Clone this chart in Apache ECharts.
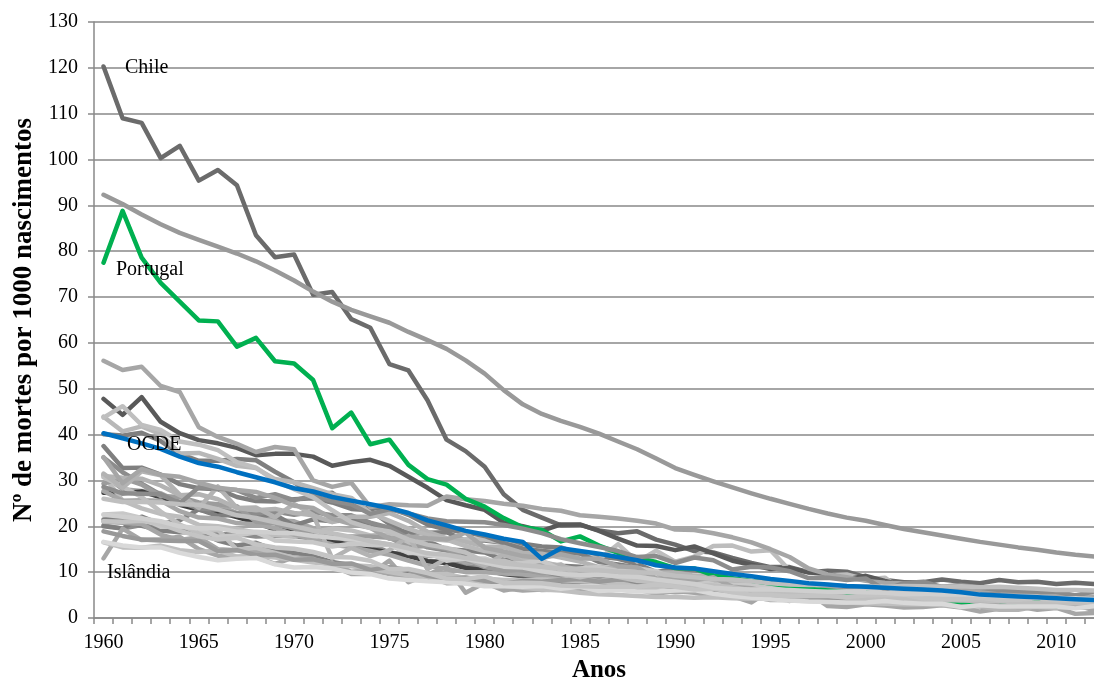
<!DOCTYPE html>
<html>
<head>
<meta charset="utf-8">
<title>Mortalidade infantil – OCDE</title>
<script src="https://cdn.jsdelivr.net/npm/echarts@6/dist/echarts.min.js"></script>
<style>
  html, body { margin: 0; padding: 0; background: #fff; overflow: hidden; }
  #chart { width: 1094px; height: 681px; }
</style>
</head>
<body>
<div id="chart"></div>
<script>
// Anos 1960–2012
const years = [];
for (let y = 1960; y <= 2012; y++) years.push(String(y));

// Mortalidade infantil (mortes por 1000 nascimentos)
const australia = [
  20.2,19.5,20.3,19.5,19.1,18.5,18.2,18.3,17.8,17.9,
  17.9,17.3,16.7,16.5,16.1,14.3,13.8,12.5,12.2,11.4,
  10.7,10.0,10.3,9.6,9.2,9.9,8.8,8.7,8.7,8.0,
  8.2,7.1,7.0,6.1,5.9,5.7,5.8,5.3,5.0,5.7,
  5.2,5.3,5.0,4.8,4.7,5.0,4.7,4.2,4.1,4.3,
  4.1,3.8,3.3];
const austria = [
  37.5,32.7,32.8,31.3,29.2,28.3,28.1,26.4,25.5,25.4,
  25.9,26.1,25.2,23.8,23.5,20.5,18.2,16.8,15.0,14.7,
  14.3,12.7,12.8,11.9,11.4,11.2,10.3,9.8,8.1,8.3,
  7.8,7.5,7.5,6.5,6.3,5.4,5.1,4.7,4.9,4.4,
  4.8,4.8,4.1,4.5,4.5,4.2,3.6,3.7,3.7,3.8,
  3.9,3.6,3.2];
const belgica = [
  31.2,28.1,27.7,27.2,25.3,23.7,24.7,22.9,21.7,21.4,
  21.1,19.6,18.2,16.9,16.2,16.1,14.0,13.6,13.6,12.1,
  12.1,11.1,11.6,10.6,10.1,9.8,9.7,9.7,9.2,8.6,
  8.0,8.4,8.2,8.0,7.6,6.0,6.0,5.6,5.5,4.9,
  4.8,4.5,4.4,4.1,4.3,3.7,4.0,4.0,3.7,3.4,
  3.6,3.3,3.8];
const canada = [
  27.3,27.2,27.6,26.3,24.7,23.6,23.1,22.0,20.8,19.3,
  18.8,17.5,17.1,15.5,15.0,14.3,13.5,12.4,12.0,10.9,
  10.4,9.6,9.1,8.5,8.1,8.0,7.9,7.3,7.2,7.1,
  6.8,6.4,6.1,6.3,6.3,6.1,5.6,5.5,5.3,5.3,
  5.3,5.2,5.4,5.3,5.3,5.4,5.0,5.1,5.1,4.9,
  5.0,4.8,4.8];
const chile = [
  120.3,109.0,108.0,100.3,103.0,95.4,97.7,94.4,83.5,78.7,
  79.3,70.5,71.1,65.2,63.3,55.4,54.0,47.5,38.9,36.4,
  33.0,27.0,23.6,21.9,20.2,20.3,19.1,18.5,18.9,17.1,
  16.0,14.6,14.3,13.1,12.0,11.1,11.1,10.0,10.3,10.1,
  8.9,8.3,7.8,7.8,8.4,7.9,7.6,8.3,7.8,7.9,
  7.4,7.7,7.4];
const chequia = [
  20.0,19.5,22.1,20.5,21.3,23.7,22.3,22.5,22.2,22.5,
  20.2,21.5,21.1,21.4,20.6,19.4,18.7,18.6,18.7,16.9,
  16.9,16.4,16.2,15.6,15.4,14.0,13.4,12.9,11.8,10.0,
  10.8,10.4,9.9,8.5,7.9,7.7,6.0,5.9,5.2,4.6,
  4.1,4.0,4.1,3.9,3.7,3.4,3.3,3.1,2.8,2.9,
  2.7,2.7,2.6];
const dinamarca = [
  21.5,21.8,20.1,19.1,18.7,18.7,16.9,15.8,16.4,14.8,
  14.2,13.5,12.2,11.5,10.7,10.4,10.2,8.7,8.9,8.8,
  8.4,7.9,8.2,7.7,7.7,7.9,8.2,8.3,7.5,8.0,
  7.5,7.3,6.6,5.4,5.6,5.1,5.6,5.2,4.7,4.2,
  5.3,4.9,4.4,4.4,4.4,4.4,3.8,4.0,4.0,3.1,
  3.4,3.5,3.4];
const estonia = [
  31.1,25.6,23.9,22.7,22.1,20.3,20.0,19.4,18.6,18.1,
  17.7,18.8,19.5,19.1,18.0,18.2,16.4,17.3,16.9,17.2,
  17.1,16.5,15.2,14.6,14.0,14.1,12.8,16.1,12.3,14.7,
  12.3,13.4,15.7,15.8,14.5,14.8,10.4,10.1,9.3,9.5,
  8.4,8.8,5.7,7.0,6.4,5.4,4.4,5.0,5.0,3.6,
  3.3,2.5,3.6];
const finlandia = [
  21.0,20.8,20.5,18.2,17.0,17.6,15.0,14.8,14.4,13.9,
  13.2,12.7,12.0,10.1,10.4,9.6,9.0,9.1,7.6,7.7,
  7.6,6.5,6.0,6.2,6.5,6.3,5.8,6.2,6.1,6.0,
  5.6,5.8,5.2,4.4,4.7,3.9,4.0,3.9,4.2,3.6,
  3.8,3.2,3.0,3.1,3.3,3.0,2.8,2.7,2.6,2.6,
  2.3,2.4,2.4];
const franca = [
  27.7,25.6,25.7,25.6,23.3,21.9,21.7,20.7,20.4,19.6,
  18.2,17.2,16.0,15.4,14.6,13.8,12.5,11.4,10.7,10.0,
  10.0,9.7,9.5,9.1,8.3,8.3,8.0,7.8,7.8,7.5,
  7.3,7.3,6.8,6.5,5.9,5.0,4.8,5.0,4.6,4.3,
  4.4,4.5,4.1,4.0,3.8,3.6,3.8,3.8,3.8,3.9,
  3.6,3.5,3.5];
const alemanha = [
  35.0,31.8,29.3,26.9,25.3,23.9,23.6,22.8,22.8,23.2,
  22.5,23.1,22.4,22.4,20.8,19.7,17.4,15.4,14.7,13.5,
  12.4,11.6,10.9,10.2,9.6,9.1,8.5,8.3,7.6,7.5,
  7.0,6.9,6.2,5.8,5.6,5.3,5.0,4.9,4.7,4.5,
  4.4,4.3,4.2,4.2,4.1,3.9,3.8,3.9,3.5,3.5,
  3.4,3.6,3.3];
const grecia = [
  40.1,39.8,40.4,38.6,35.8,34.3,34.3,34.7,34.4,31.9,
  29.6,26.9,27.3,24.1,23.9,24.0,22.5,20.4,19.3,18.7,
  17.9,16.3,15.1,14.6,14.3,14.1,12.2,11.7,11.0,9.8,
  9.7,9.0,8.4,8.5,7.9,8.1,7.3,6.4,6.7,6.2,
  5.9,5.1,5.9,4.0,4.1,3.8,3.7,3.5,2.7,3.1,
  3.8,3.4,2.9];
const hungria = [
  47.8,44.3,48.2,42.8,40.3,38.8,38.1,37.1,35.5,35.8,
  35.8,35.2,33.2,34.0,34.5,33.2,30.8,28.4,25.7,24.6,
  23.6,20.8,20.0,19.0,20.4,20.4,19.0,17.3,15.8,15.7,
  14.8,15.6,14.1,12.5,11.6,10.7,10.9,9.9,9.7,8.4,
  9.2,8.1,7.2,7.3,6.6,6.2,5.7,5.9,5.6,5.1,
  5.3,4.9,4.9];
const islandia = [
  13.0,19.5,17.0,17.2,17.7,15.0,13.6,13.3,13.3,11.8,
  13.2,12.9,11.3,9.6,9.6,12.5,7.8,9.4,11.2,5.5,
  7.7,6.0,6.7,6.1,6.2,5.7,5.4,7.2,6.2,5.3,
  5.9,5.5,4.8,4.8,3.4,6.1,3.7,5.5,2.6,2.4,
  3.0,2.7,2.3,2.4,2.8,2.3,1.4,2.0,2.5,1.8,
  2.2,0.9,1.1];
const irlanda = [
  29.3,30.5,29.1,26.6,26.4,25.2,24.8,24.4,21.0,20.6,
  19.5,18.0,17.7,17.8,17.8,17.5,15.5,15.7,15.1,12.8,
  11.1,10.3,10.5,9.8,10.1,8.9,8.7,7.4,8.9,7.6,
  8.2,7.5,6.7,6.1,5.9,6.4,5.8,6.2,6.2,5.9,
  6.2,5.7,5.0,5.1,4.6,4.0,3.7,3.1,3.8,3.3,
  3.8,3.5,3.5];
const israel = [
  31.0,30.6,30.4,28.9,26.8,27.0,25.9,24.0,23.5,23.8,
  22.9,22.4,20.9,22.1,22.1,22.9,21.2,18.8,17.4,16.6,
  15.6,15.5,14.2,14.0,13.2,12.3,11.1,10.8,10.9,10.0,
  9.9,9.2,9.4,7.9,7.5,6.8,6.3,6.4,5.8,5.8,
  5.5,5.1,5.4,4.9,4.6,4.4,4.0,3.9,3.8,3.8,
  3.7,3.5,3.6];
const italia = [
  43.9,40.7,41.8,40.1,35.9,36.0,34.7,33.2,32.7,30.3,
  29.6,28.3,27.0,26.2,22.9,21.2,19.5,18.1,17.1,15.7,
  14.6,14.1,13.0,12.3,11.3,10.5,10.1,9.6,9.3,8.5,
  8.2,8.1,7.9,7.3,6.6,6.2,5.8,5.5,5.4,5.1,
  4.5,4.6,4.3,3.9,3.9,3.8,3.7,3.5,3.3,3.5,
  3.4,3.2,2.9];
const japao = [
  30.7,28.6,26.4,23.2,20.4,18.5,19.3,14.9,15.3,14.2,
  13.1,12.4,11.7,11.3,10.8,10.0,9.3,8.9,8.4,7.9,
  7.5,7.1,6.6,6.2,6.0,5.5,5.2,5.0,4.8,4.6,
  4.6,4.4,4.5,4.3,4.2,4.3,3.8,3.7,3.6,3.4,
  3.2,3.1,3.0,3.0,2.8,2.8,2.6,2.6,2.6,2.4,
  2.3,2.3,2.2];
const luxemburgo = [
  31.5,28.4,32.0,31.1,26.9,24.0,28.7,24.0,24.1,22.0,
  24.9,22.5,13.0,15.3,13.5,14.8,17.9,10.6,13.0,13.0,
  11.4,13.9,12.1,11.2,11.7,9.0,7.9,9.4,8.7,9.9,
  7.3,9.2,8.5,6.0,5.3,5.5,4.9,4.2,5.0,4.6,
  5.1,5.9,5.1,4.9,3.9,2.6,2.5,1.8,1.8,2.5,
  3.4,4.3,2.5];
const mexico = [
  92.3,90.3,88.0,85.9,84.0,82.5,81.0,79.5,77.8,75.8,
  73.6,71.2,69.0,67.2,65.8,64.4,62.4,60.6,58.7,56.2,
  53.3,49.7,46.6,44.5,43.0,41.7,40.2,38.5,36.8,34.8,
  32.7,31.2,29.8,28.5,27.2,26.0,24.9,23.8,22.8,21.9,
  21.2,20.3,19.4,18.7,18.0,17.3,16.6,16.0,15.4,14.9,
  14.3,13.8,13.4];
const holanda = [
  16.5,15.4,15.3,15.8,14.8,14.4,14.7,13.4,13.6,13.2,
  12.7,12.1,11.7,11.5,11.3,10.6,10.5,9.5,9.6,8.7,
  8.6,8.3,8.3,8.4,8.3,8.0,7.8,7.6,6.8,6.8,
  7.1,6.5,6.3,6.3,5.6,5.5,5.7,5.0,5.2,5.2,
  5.1,5.4,5.0,4.8,4.4,4.9,4.4,4.1,3.8,3.8,
  3.8,3.6,3.7];
const novaZelandia = [
  22.6,22.8,21.8,19.9,19.9,19.5,17.7,18.0,18.7,16.9,
  16.7,16.5,15.6,16.2,15.9,16.0,14.2,14.2,12.5,13.0,
  13.0,11.7,12.0,12.5,10.5,10.8,11.1,10.2,10.8,10.2,
  8.4,8.3,7.3,7.2,7.2,6.7,7.4,6.8,5.6,5.7,
  6.1,5.6,6.2,5.3,5.8,5.1,5.2,4.8,5.0,4.9,
  5.1,4.7,5.2];
const noruega = [
  18.9,17.9,17.1,16.9,16.8,16.8,14.6,14.8,13.7,13.8,
  12.7,12.8,11.8,11.9,10.5,11.1,10.5,9.2,8.6,8.8,
  8.1,7.5,8.1,7.9,8.3,8.5,7.9,8.4,8.3,7.8,
  7.0,6.4,5.9,5.1,5.2,4.1,4.0,4.1,4.0,3.9,
  3.8,3.9,3.5,3.4,3.2,3.1,3.2,3.1,2.7,3.1,
  2.8,2.4,2.5];
const polonia = [
  56.1,54.1,54.8,50.6,49.3,41.6,39.5,38.0,36.2,37.3,
  36.8,30.0,28.6,29.5,24.2,24.8,24.6,24.5,26.5,25.9,
  25.5,24.9,24.5,23.8,23.4,22.4,22.1,21.7,21.2,20.6,
  19.3,19.2,18.5,17.6,16.5,15.0,13.3,10.8,9.5,8.9,
  8.1,7.7,7.5,7.0,6.8,6.4,6.0,6.0,5.6,5.6,
  5.0,4.7,4.6];
const portugal = [
  77.5,88.8,78.6,73.1,69.0,64.9,64.7,59.2,61.1,56.0,
  55.5,51.9,41.4,44.8,37.9,38.9,33.4,30.3,29.1,26.0,
  24.3,21.8,19.8,19.2,16.7,17.8,15.8,14.2,13.1,12.2,
  10.9,10.8,9.3,8.7,8.1,7.5,6.9,6.4,6.0,5.6,
  5.5,5.0,5.0,4.1,3.8,3.5,3.3,3.4,3.3,3.6,
  2.5,3.1,3.4];
const eslovaquia = [
  28.6,27.2,27.1,27.0,25.0,28.5,28.2,27.9,26.2,27.0,
  25.7,26.6,25.5,24.8,22.7,23.7,22.8,21.7,21.1,21.0,
  20.9,20.3,19.5,18.5,17.2,16.3,15.5,14.6,13.3,13.5,
  12.0,13.2,12.6,10.6,11.2,11.0,10.2,8.7,8.8,8.3,
  8.6,6.2,7.6,7.9,6.8,7.2,6.6,6.1,5.9,5.7,
  5.7,4.9,5.8];
const eslovenia = [
  35.1,29.4,32.5,31.2,30.8,29.5,28.4,27.9,27.5,26.2,
  24.5,24.0,21.7,20.5,19.7,17.3,17.8,17.4,17.1,18.6,
  15.3,14.5,13.5,13.1,13.9,13.0,12.9,11.3,11.0,8.6,
  8.4,8.2,8.9,6.8,6.5,5.5,4.7,5.2,5.2,4.5,
  4.9,4.2,3.8,4.0,3.7,4.1,3.4,2.8,2.4,2.4,
  2.5,2.9,1.6];
const espanha = [
  43.7,46.2,42.1,41.0,38.5,37.8,36.6,34.0,32.8,29.9,
  28.1,26.3,23.5,20.9,19.6,18.9,17.1,16.0,15.3,14.3,
  12.3,12.5,11.3,10.9,9.6,8.9,9.7,9.0,8.1,7.8,
  7.6,7.2,7.1,6.7,6.0,5.5,5.5,5.0,4.9,4.4,
  4.4,4.1,4.1,3.9,4.0,3.8,3.8,3.7,3.3,3.2,
  3.2,3.2,3.1];
const suecia = [
  16.6,15.8,15.4,15.4,14.2,13.3,12.6,12.9,13.1,11.7,
  11.0,11.1,10.8,9.9,9.6,8.6,8.3,8.0,7.8,7.5,
  6.9,6.9,6.8,7.0,6.4,6.8,5.9,6.1,5.8,5.8,
  6.0,6.1,5.3,4.8,4.4,4.1,3.8,3.6,3.5,3.4,
  3.4,3.7,3.3,3.1,3.1,2.4,2.8,2.5,2.5,2.5,
  2.5,2.1,2.6];
const suica = [
  21.1,21.0,21.2,20.5,19.0,17.8,17.1,17.5,16.1,15.4,
  15.1,14.4,13.3,13.2,12.5,10.7,10.7,9.8,8.6,8.5,
  9.1,7.6,7.7,7.6,7.1,6.9,6.8,6.8,6.8,7.3,
  6.8,6.2,6.4,5.6,5.1,5.0,4.7,4.8,4.8,4.6,
  4.9,5.0,5.0,4.3,4.2,4.2,4.4,3.9,4.0,4.3,
  3.8,3.8,3.6];
const reinoUnido = [
  22.5,22.1,21.7,21.1,20.0,19.6,19.6,18.8,18.8,18.6,
  18.5,17.9,17.5,17.2,16.8,16.0,14.5,13.8,13.2,12.9,
  12.1,11.2,11.0,10.2,9.6,9.4,9.5,9.1,9.0,8.4,
  7.9,7.4,6.6,6.3,6.2,6.2,6.1,5.9,5.7,5.8,
  5.6,5.5,5.2,5.3,5.1,5.1,5.0,4.8,4.7,4.6,
  4.3,4.3,4.1];
const eua = [
  26.0,25.3,25.3,25.2,24.8,24.7,23.7,22.4,21.8,20.9,
  20.0,19.1,18.5,17.7,16.7,16.1,15.2,14.1,13.8,13.1,
  12.6,11.9,11.5,11.2,10.8,10.6,10.4,10.1,10.0,9.8,
  9.2,8.9,8.5,8.4,8.0,7.6,7.3,7.2,7.2,7.0,
  6.9,6.8,7.0,6.9,6.8,6.9,6.7,6.8,6.6,6.4,
  6.1,6.1,6.0];
const ocde = [
  40.3,39.2,38.1,36.9,35.2,33.8,33.0,31.8,30.7,29.6,
  28.3,27.6,26.4,25.6,24.8,24.0,22.9,21.3,20.2,19.0,
  18.2,17.3,16.6,12.9,15.2,14.6,14.0,13.3,12.6,11.5,
  11.0,10.8,10.2,9.6,9.1,8.5,8.1,7.6,7.3,7.0,
  6.8,6.6,6.4,6.2,6.0,5.6,5.1,4.9,4.7,4.5,
  4.3,4.1,3.9];

// Tick labels of the value axis
const yTicks = [0, 10, 20, 30, 40, 50, 60, 70, 80, 90, 100, 110, 120, 130];

// Countries in drawing order: [name, values, colour]
const countries = [
  ['Austrália', australia, '#8c8c8c'],
  ['Áustria', austria, '#7f7f7f'],
  ['Bélgica', belgica, '#a6a6a6'],
  ['Canadá', canada, '#404040'],
  ['Chile', chile, '#6b6b6b'],
  ['Chéquia', chequia, '#7f7f7f'],
  ['Dinamarca', dinamarca, '#808080'],
  ['Estónia', estonia, '#bdbdbd'],
  ['Finlândia', finlandia, '#a6a6a6'],
  ['França', franca, '#a6a6a6'],
  ['Alemanha', alemanha, '#8c8c8c'],
  ['Grécia', grecia, '#7f7f7f'],
  ['Hungria', hungria, '#595959'],
  ['Islândia', islandia, '#a6a6a6'],
  ['Irlanda', irlanda, '#9c9c9c'],
  ['Israel', israel, '#b3b3b3'],
  ['Itália', italia, '#b8b8b8'],
  ['Japão', japao, '#bfbfbf'],
  ['Luxemburgo', luxemburgo, '#b3b3b3'],
  ['México', mexico, '#999999'],
  ['Holanda', holanda, '#bfbfbf'],
  ['Nova Zelândia', novaZelandia, '#c8c8c8'],
  ['Noruega', noruega, '#999999'],
  ['Polónia', polonia, '#a6a6a6'],
  ['Portugal', portugal, '#00b050'],
  ['Eslováquia', eslovaquia, '#8c8c8c'],
  ['Eslovénia', eslovenia, '#a6a6a6'],
  ['Espanha', espanha, '#bfbfbf'],
  ['Suécia', suecia, '#d9d9d9'],
  ['Suíça', suica, '#c4c4c4'],
  ['Reino Unido', reinoUnido, '#cfcfcf'],
  ['EUA', eua, '#bfbfbf'],
  ['OCDE', ocde, '#0070c0']
];

const FONT = '"Liberation Serif", "Times New Roman", serif';
const GRID_COLOR = '#898989';

const series = countries.map(function (c) {
  return {
    name: c[0],
    type: 'line',
    data: c[1],
    symbol: 'none',
    silent: true,
    lineStyle: { color: c[2], width: 4.5, join: 'round', cap: 'round' }
  };
});

function label(text, x, y) {
  return {
    type: 'text', x: x, y: y, z: 100,
    style: { text: text, font: '20px ' + FONT, fill: '#000', verticalAlign: 'middle' }
  };
}

const chart = echarts.init(document.getElementById('chart'), null, { renderer: 'canvas' });

chart.setOption({
  animation: false,
  backgroundColor: '#ffffff',
  textStyle: { fontFamily: FONT },
  grid: { left: 94, top: 22, width: 1010, height: 596, containLabel: false, outerBoundsMode: 'none' },
  xAxis: {
    type: 'category',
    data: years,
    boundaryGap: true,
    name: 'Anos',
    nameLocation: 'middle',
    nameGap: 38,
    nameTextStyle: { fontFamily: FONT, fontSize: 25, fontWeight: 'bold', color: '#000' },
    axisLine: { show: true, lineStyle: { color: GRID_COLOR, width: 1.5 } },
    axisTick: { show: true, interval: 0, length: 6, lineStyle: { color: GRID_COLOR, width: 1.5 } },
    axisLabel: { interval: 4, margin: 15, fontFamily: FONT, fontSize: 20, color: '#000' },
    splitLine: { show: false }
  },
  yAxis: {
    type: 'value',
    min: yTicks[0],
    max: yTicks[yTicks.length - 1],
    interval: yTicks[1] - yTicks[0],
    name: 'Nº de mortes por 1000 nascimentos',
    nameLocation: 'middle',
    nameGap: 42,
    nameTextStyle: { fontFamily: FONT, fontSize: 27, fontWeight: 'bold', color: '#000' },
    axisLine: { show: true, lineStyle: { color: GRID_COLOR, width: 1.5 } },
    axisTick: { show: true, length: 6, lineStyle: { color: GRID_COLOR, width: 1.5 } },
    axisLabel: { margin: 16, fontFamily: FONT, fontSize: 20, color: '#000' },
    splitLine: { show: true, lineStyle: { color: GRID_COLOR, width: 1.5 } }
  },
  graphic: [
    label('Chile', 125, 68),
    label('Portugal', 116, 270),
    label('OCDE', 127, 445),
    label('Islândia', 107, 573)
  ],
  series: series
});
</script>
</body>
</html>
